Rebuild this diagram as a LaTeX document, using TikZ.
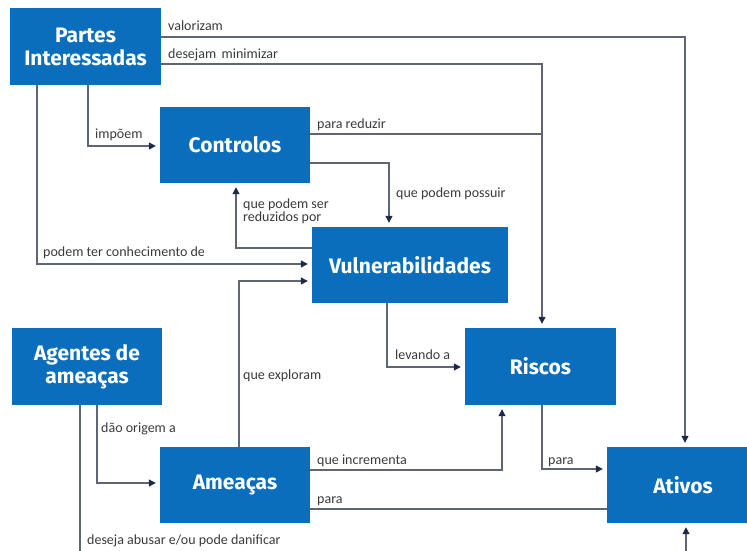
\documentclass[tikz,border=0pt]{standalone}
\usepackage{fontspec}
\setmainfont{Fira Sans}
\newfontfamily\lblfont{Carlito}
\usetikzlibrary{arrows.meta,calc}
\definecolor{boxblue}{HTML}{0A6EBD}
\definecolor{linegray}{HTML}{5E6574}
\definecolor{arrownavy}{HTML}{1C2B4A}
\definecolor{lbltext}{HTML}{3A3A3A}
\tikzset{
  box/.style={fill=boxblue, text=white, font=\fontsize{21}{23}\selectfont\bfseries, align=center, inner sep=0pt},
  lbl/.style={text=lbltext, font=\lblfont\fontsize{14}{15}\selectfont, inner sep=1pt, align=left},
  conn/.style={draw=linegray, line width=1.2pt},
  arr/.style={conn, -{Triangle[length=7pt,width=7pt,color=arrownavy]}, shorten >=4pt},
}
\begin{document}
\begin{tikzpicture}[x=1pt,y=-1pt]
\useasboundingbox (0,0) rectangle (747,550);
\clip (0,0) rectangle (747,550);
% boxes
\node[box, minimum width=151pt, minimum height=77pt] (partes) at (85.5,46.5) {Partes\\Interessadas};
\node[box, minimum width=150pt, minimum height=76pt] (controlos) at (235,145) {Controlos};
\node[box, minimum width=196pt, minimum height=76pt] (vuln) at (410,265) {Vulnerabilidades};
\node[box, minimum width=150pt, minimum height=77pt] (agentes) at (87,366.5) {Agentes de\\ameaças};
\node[box, minimum width=150pt, minimum height=76pt] (ameacas) at (235,485) {Ameaças};
\node[box, minimum width=151pt, minimum height=77pt] (riscos) at (540.5,366.5) {Riscos};
\node[box, minimum width=152pt, minimum height=76pt] (ativos) at (683,485) {Ativos};
% helper coordinates
\coordinate (c1) at (685,37);
\coordinate (c2) at (542,64);
\coordinate (c3) at (542,134);
\coordinate (c4) at (389,163);
\coordinate (c5) at (236,248);
\coordinate (c6) at (88,146);
\coordinate (c7) at (37,264);
\coordinate (c8) at (239,281);
\coordinate (c9) at (97,483);
\coordinate (c10a) at (80,580);
\coordinate (c10b) at (686,580);
\coordinate (c11) at (387,367);
\coordinate (c12) at (502,470);
\coordinate (c13) at (542,469);
\coordinate (c14) at (310,509);
% connectors
\draw[arr] (partes.east |- c1) -- (c1) -- (c1 |- ativos.north);
\draw[arr] (partes.east |- c2) -- (c2) -- (c2 |- riscos.north);
\draw[conn] (controlos.east |- c3) -- (c3);
\draw[arr] (controlos.east |- c4) -- (c4) -- (c4 |- vuln.north);
\draw[arr] (vuln.west |- c5) -- (c5) -- (c5 |- controlos.south);
\draw[arr] (partes.south -| c6) -- (c6) -- (c6 -| controlos.west);
\draw[arr] (partes.south -| c7) -- (c7) -- (c7 -| vuln.west);
\draw[arr] (ameacas.north -| c8) -- (c8) -- (c8 -| vuln.west);
\draw[arr] (agentes.south -| c9) -- (c9) -- (c9 -| ameacas.west);
\draw[arr] (agentes.south -| c10a) -- (c10a) -- (c10b) -- (c10b |- ativos.south);
\draw[arr] (vuln.south -| c11) -- (c11) -- (c11 -| riscos.west);
\draw[arr] (ameacas.east |- c12) -- (c12) -- (c12 |- riscos.south);
\draw[arr] (riscos.south -| c13) -- (c13) -- (c13 -| ativos.west);
\draw[conn] (ameacas.east |- c14) -- (c14 -| ativos.west);
% labels
\node[lbl, anchor=base west] (l1) at (167,30) {valorizam};
\node[lbl, anchor=base west] (l2) at (167,58) {desejam\, minimizar};
\node[lbl, anchor=base west] (l3) at (316,128) {para reduzir};
\node[lbl, anchor=base west] (l4) at (395,197) {que podem possuir};
\node[lbl, anchor=base west] (l5) at (242,208) {que podem ser};
\node[lbl, anchor=base west] (l5b) at (242,221) {reduzidos por};
\node[lbl, anchor=base west] (l6) at (94,138) {impõem};
\node[lbl, anchor=base west] (l7) at (42,256) {podem ter conhecimento de};
\node[lbl, anchor=base west] (l8) at (242,379) {que exploram};
\node[lbl, anchor=base west] (l9) at (100,432) {dão origem a};
\node[lbl, anchor=base west] (l10) at (86,544) {deseja abusar e/ou pode danificar};
\node[lbl, anchor=base west] (l11) at (394,359) {levando a};
\node[lbl, anchor=base west] (l12) at (316,464) {que incrementa};
\node[lbl, anchor=base west] (l13) at (547,464) {para};
\node[lbl, anchor=base west] (l14) at (316,503) {para};
\end{tikzpicture}
\end{document}
